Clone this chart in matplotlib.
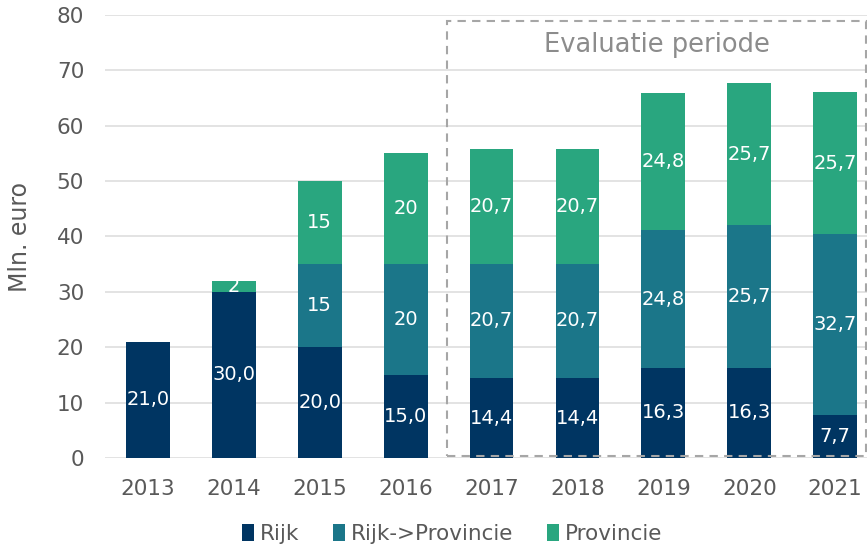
import numpy as np
import matplotlib
matplotlib.use("Agg")
import matplotlib.pyplot as plt
from matplotlib.patches import Rectangle

# data
jaren = ["2013", "2014", "2015", "2016", "2017", "2018", "2019", "2020", "2021"]
rijk = [21.0, 30.0, 20.0, 15.0, 14.4, 14.4, 16.3, 16.3, 7.7]
rijk_prov = [0, 0, 15, 20, 20.7, 20.7, 24.8, 25.7, 32.7]
provincie = [0, 2, 15, 20, 20.7, 20.7, 24.8, 25.7, 25.7]
reeksen = ["Rijk", "Rijk->Provincie", "Provincie"]
kleuren = ["#003562", "#1b7689", "#29a67f"]

grijs = "#595959"
plt.rcParams['font.family'] = ['DejaVu Sans']

fig = plt.figure(figsize=(8.67, 5.48), dpi=100)
ax = fig.add_axes([105/867, 1-458/548, 1-105/867, (458-15)/548])

x = np.arange(len(jaren))
bottom = np.zeros(len(jaren))
for naam, vals, kl in zip(reeksen, [rijk, rijk_prov, provincie], kleuren):
    vals = np.array(vals, dtype=float)
    ax.bar(x, vals, 0.51, bottom=bottom, color=kl, label=naam, zorder=3)
    for i, v in enumerate(vals):
        if v <= 0:
            continue
        if naam == "Rijk" or v != int(v):
            txt = f"{v:.1f}".replace(".", ",")
        else:
            txt = str(int(v))
        ax.text(x[i], bottom[i] + v/2, txt, ha="center", va="center",
                color="white", fontsize=14, zorder=4)
    bottom += vals

ax.set_xlim(-0.5, 8.37)
ax.set_ylim(0, 80)
ax.set_yticks(range(0, 81, 10))
ax.set_xticks(x)
ax.set_xticklabels(jaren)
ax.grid(axis="y", color="#dedede", linewidth=1.2, zorder=0)
ax.set_axisbelow(True)
for s in ax.spines.values():
    s.set_visible(False)
ax.tick_params(length=0, labelsize=15.5, labelcolor=grijs)
ax.tick_params(axis="x", pad=15)
ax.tick_params(axis="y", pad=15)
ax.set_ylabel("Mln. euro", fontsize=17, color=grijs, labelpad=18)

# evaluatie kader
kader = Rectangle((3.48, 0.3), 8.36-3.48, 79.0-0.3, fill=False, edgecolor="#a6a6a6",
                  linestyle=(0, (4, 3)), linewidth=1.5, clip_on=False, zorder=5)
ax.add_patch(kader)
ax.text(5.93, 74.6, "Evaluatie periode", ha="center", va="center",
        fontsize=18.5, color="#8c8c8c")

fig.legend(loc="center", bbox_to_anchor=(452/867, 1-534/548), ncol=3, frameon=False,
           fontsize=15.5, handlelength=0.55, handleheight=0.8, handletextpad=0.25,
           columnspacing=1.6, labelcolor=grijs)

plt.savefig("out.png", dpi=100)
